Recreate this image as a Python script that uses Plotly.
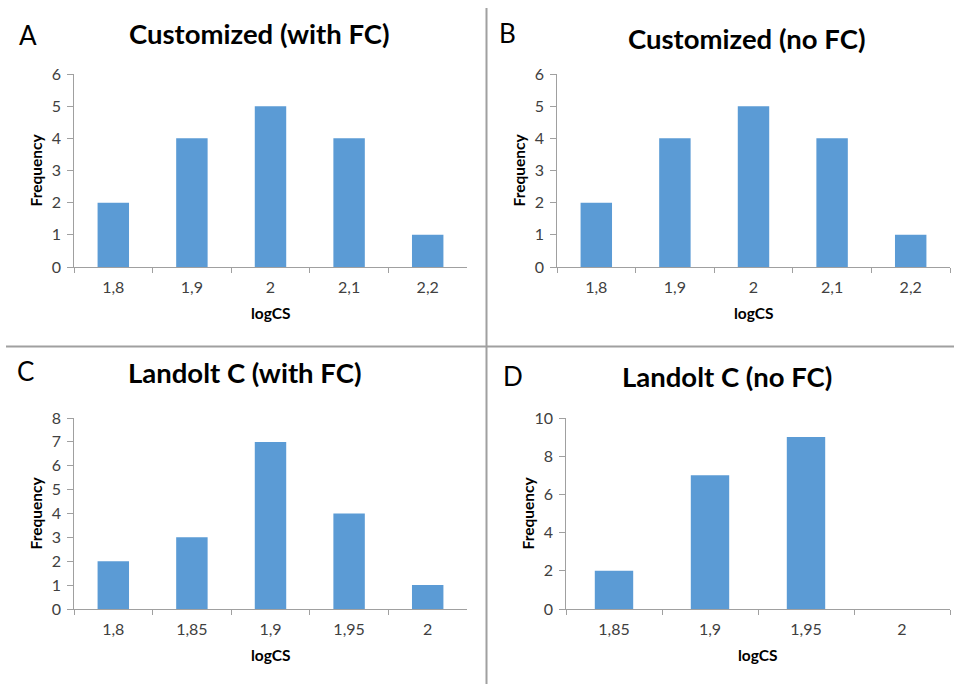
import plotly.graph_objects as go

W, H = 954, 684

# Histogram data for the four panels
cats_custom = ["1,8", "1,9", "2", "2,1", "2,2"]
freq_custom_fc = [2, 4, 5, 4, 1]
freq_custom_nofc = [2, 4, 5, 4, 1]

cats_landolt_fc = ["1,8", "1,85", "1,9", "1,95", "2"]
freq_landolt_fc = [2, 3, 7, 4, 1]

cats_landolt_nofc = ["1,85", "1,9", "1,95", "2"]
freq_landolt_nofc = [2, 7, 9, 0]

panel_titles = ["Customized (with FC)", "Customized (no FC)",
                "Landolt C (with FC)", "Landolt C (no FC)"]
panel_letters = ["A", "B", "C", "D"]
y_max = [6, 6, 8, 10]
y_step = [1, 1, 1, 2]

BAR = "#5b9bd5"
AXIS = "#a0a0a0"
TICKFONT = dict(family="Lato", size=16, color="#404040")
FONT = "Lato"

# plot-area boxes in pixels: (left, right, top, bottom)
boxes = [(74, 467, 74, 267), (557, 950, 74, 267),
         (74, 467, 418, 609), (566, 950, 418, 609)]
# title centre, letter centre (pixels)
title_pos = [(259, 34), (746, 39), (245, 373), (727, 376)]
letter_pos = [(28, 35), (508, 33), (25, 371), (513, 376)]

data = [(cats_custom, freq_custom_fc), (cats_custom, freq_custom_nofc),
        (cats_landolt_fc, freq_landolt_fc), (cats_landolt_nofc, freq_landolt_nofc)]


def px(x):
    return x / W


def py(y):
    return 1 - y / H


fig = go.Figure()
layout = dict(width=W, height=H,
              margin=dict(l=0, r=0, t=0, b=0, pad=0, autoexpand=False),
              paper_bgcolor="white", plot_bgcolor="white",
              showlegend=False, bargap=0.6, font=dict(family=FONT))
annotations = []

for i, ((cats, vals), (l, r, t, b)) in enumerate(zip(data, boxes)):
    n = "" if i == 0 else str(i + 1)
    lab = str(i + 5)  # companion axis that carries the y tick labels
    fig.add_trace(go.Bar(x=cats, y=vals, marker=dict(color=BAR, line=dict(width=0)),
                         xaxis="x" + n, yaxis="y" + n))
    layout["xaxis" + n] = dict(
        domain=[px(l), px(r)], anchor="y" + n, type="category", automargin=False,
        showline=True, linecolor=AXIS, linewidth=1, showgrid=False,
        ticks="outside", tickson="boundaries", ticklen=5, tickcolor=AXIS,
        tickfont=TICKFONT, ticklabelstandoff=6, zeroline=False)
    layout["yaxis" + n] = dict(
        domain=[py(b), py(t)], anchor="x" + n, range=[0, y_max[i]], automargin=False,
        dtick=y_step[i], showline=True, linecolor=AXIS, linewidth=1,
        showgrid=False, ticks="outside", ticklen=6, tickcolor=AXIS,
        showticklabels=False, zeroline=False)
    layout["yaxis" + lab] = dict(
        domain=[py(b), py(t)], overlaying="y" + n, anchor="free", position=px(l - 13),
        range=[0, y_max[i]], dtick=y_step[i], automargin=False, showline=False,
        showgrid=False, ticks="", tickfont=TICKFONT, zeroline=False)
    # invisible trace to bind the label axis
    fig.add_trace(go.Scatter(x=[cats[0]], y=[0], mode="markers", opacity=0,
                             hoverinfo="skip", xaxis="x" + n, yaxis="y" + lab))

    tx, ty = title_pos[i]
    annotations.append(dict(text="<b>%s</b>" % panel_titles[i], x=px(tx), y=py(ty),
                            xref="paper", yref="paper", xanchor="center", yanchor="middle",
                            showarrow=False, font=dict(family=FONT, size=27.5, color="black")))
    lx, ly = letter_pos[i]
    annotations.append(dict(text=panel_letters[i], x=px(lx), y=py(ly),
                            xref="paper", yref="paper", xanchor="center", yanchor="middle",
                            showarrow=False, font=dict(family=FONT, size=26, color="black")))
    # axis titles
    annotations.append(dict(text="<b>logCS</b>", x=px((l + r) / 2), y=py(b + 46),
                            xref="paper", yref="paper", xanchor="center", yanchor="middle",
                            showarrow=False, font=dict(family=FONT, size=15.5, color="black")))
    annotations.append(dict(text="<b>Frequency</b>", x=px(l - 39), y=py((t + b) / 2),
                            xref="paper", yref="paper", xanchor="center", yanchor="middle",
                            textangle=-90, showarrow=False,
                            font=dict(family=FONT, size=15.5, color="black")))

layout["annotations"] = annotations
# panel dividers
layout["shapes"] = [
    dict(type="line", xref="paper", yref="paper", x0=px(486.5), x1=px(486.5),
         y0=py(8), y1=py(684), line=dict(color=AXIS, width=2)),
    dict(type="line", xref="paper", yref="paper", x0=px(6), x1=px(954),
         y0=py(346.5), y1=py(346.5), line=dict(color=AXIS, width=2)),
]
fig.update_layout(**layout)
fig.write_html("out.html")
